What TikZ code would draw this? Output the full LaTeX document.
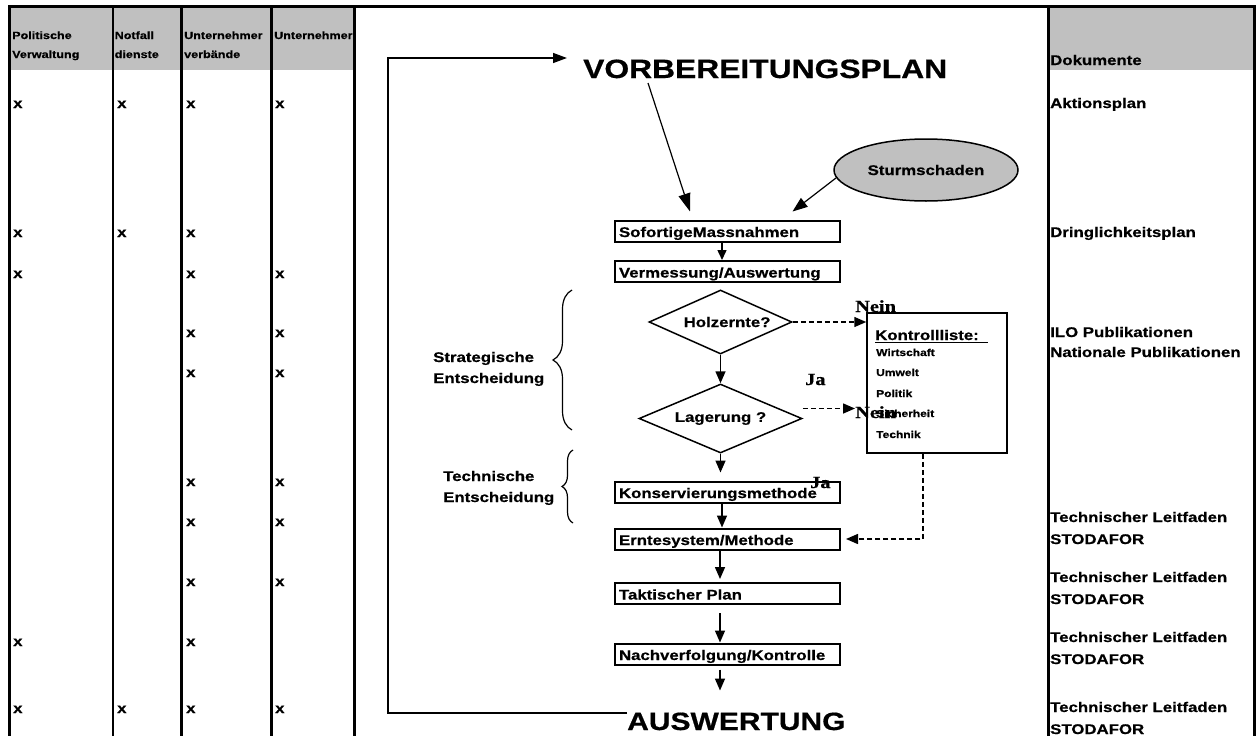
\documentclass[tikz,border=0pt]{standalone}
\usepackage{fontspec}
\setmainfont{Liberation Sans}[FakeStretch=1.2, BoldFeatures={FakeBold=0.6}]
\newfontfamily\serifb{Liberation Serif}[FakeStretch=1.2, BoldFeatures={FakeBold=0.6}]
\usetikzlibrary{arrows.meta,shapes.geometric,decorations.pathreplacing}
\newcommand\myfs[1]{\fontsize{#1}{#1}\selectfont}
\definecolor{hdrgray}{HTML}{C0C0C0}
\begin{document}
\begin{tikzpicture}[x=1pt,y=-1pt,
  tline/.style={line width=2.5pt},
  txt/.style={inner sep=0pt, anchor=base west, font=\bfseries\myfs{14}},
  hdr/.style={inner sep=0pt, anchor=base west, font=\bfseries\myfs{10.5}},
  flowbox/.style={draw, line width=2pt, minimum width=225pt, minimum height=21pt,
    text width=217pt, align=left, inner xsep=4pt, inner ysep=2pt,
    text height=14.5pt, text depth=2.5pt, font=\bfseries\myfs{14}},
  dia/.style={diamond, draw, line width=1.5pt, inner sep=0pt, font=\bfseries\myfs{14}},
  arr/.style={line width=1.5pt, -{Triangle[length=12pt,width=10pt]}},
  darr/.style={arr, dash pattern=on 5pt off 3pt},
  lbl/.style={inner sep=0pt, anchor=base west, font=\serifb\bfseries\myfs{17}},
  big/.style={inner sep=0pt, anchor=base west, font=\bfseries\myfs{26.5}},
  brc/.style={line width=1.2pt, decorate},
]
\useasboundingbox (0,0) rectangle (1256,736);
% table backgrounds
\fill[hdrgray] (10,6.5) rectangle (354,70);
\fill[hdrgray] (1048,6.5) rectangle (1256,70);
\draw[line width=3pt] (8.5,6.5) -- (1256,6.5);
\draw[line width=3pt] (9.7,5) -- (9.7,736);
\draw[line width=2pt] (112.5,6.5) -- (112.5,736);
\foreach \cx in {181.7,271.7,354.3,1048.3,1254.7}
  \draw[tline] (\cx,6.5) -- (\cx,736);
% header texts
\node[hdr] (h1a) at (12,39) {Politische};
\node[hdr] (h1b) at (12,58) {Verwaltung};
\node[hdr] (h2a) at (114.5,39) {Notfall};
\node[hdr] (h2b) at (114.5,58) {dienste};
\node[hdr] (h3a) at (184,39) {Unternehmer};
\node[hdr] (h3b) at (184,58) {verbände};
\node[hdr] (h4a) at (274,39) {Unternehmer};
\node[txt] (doc) at (1050,65) {Dokumente};
% x marks
\foreach \px/\py [count=\i] in {13/108,117/108,186/108,275/108,
   13/237,117/237,186/237,
   13/278,186/278,275/278,
   186/337,275/337, 186/377,275/377, 186/486,275/486,
   186/526,275/526, 186/586,275/586,
   13/646,186/646,
   13/713,117/713,186/713,275/713}
  \node[txt] (xm\i) at (\px,\py) {x};
% document column
\node[txt] (d1) at (1050,108) {Aktionsplan};
\node[txt] (d2) at (1050,237) {Dringlichkeitsplan};
\node[txt] (d3a) at (1050,337) {ILO Publikationen};
\node[txt] (d3b) at (1050,357) {Nationale Publikationen};
\foreach \py [count=\i] in {522,582,642,712} {
  \node[txt] (tl\i) at (1050,\py) {Technischer Leitfaden};
  \node[txt] (st\i) at (1050,\py+22) {STODAFOR};
}
% flow chart
\node[big] (vorb) at (583,78) {VORBEREITUNGSPLAN};
\node[inner sep=0pt, anchor=base west, font=\bfseries\myfs{25}] (ausw) at (627,730) {AUSWERTUNG};
\node[ellipse, draw, line width=1.5pt, fill=hdrgray, minimum width=184pt, minimum height=62pt,
  inner sep=0pt, font=\bfseries\myfs{14}] (sturm) at (926,170) {Sturmschaden};
\node[flowbox] (sof) at (727.5,231) {SofortigeMassnahmen};
\node[flowbox] (ver) at (727.5,271.5) {Vermessung/Auswertung};
\node[dia, aspect=2.23, minimum width=143pt, minimum height=64pt, text width=100pt, align=right] (holz) at (720.5,322) {Holzernte?};
\node[dia, aspect=2.36, minimum width=163pt, minimum height=69pt] (lag) at (720.5,418.5) {Lagerung ?};
\node[flowbox] (kons) at (727.5,492) {Konservierungsmethode};
\node[flowbox] (ernte) at (727.5,539) {Erntesystem/Methode};
\node[flowbox] (takt) at (727.5,593.5) {Taktischer Plan};
\node[flowbox] (nach) at (727.5,654) {Nachverfolgung/Kontrolle};
% checklist
\node[draw, line width=1.5pt, minimum width=140pt, minimum height=140pt, inner sep=0pt] (kl) at (937,383) {};
\node[txt] (kt) at (875,340) {Kontrollliste:};
\draw[line width=1.8pt] ([yshift=-2.5pt]kt.base west) -- ([yshift=-2.5pt,xshift=113pt]kt.base west);
\foreach \t/\py [count=\i] in {Wirtschaft/356,Umwelt/376,Politik/397,Sicherheit/417,Technik/438}
  \node[inner sep=0pt, anchor=base west, font=\bfseries\myfs{10}] (k\i) at (876,\py) {\t};
% labels
\node[lbl] (nein1) at (855,312) {Nein};
\node[lbl] (ja1) at (805,385) {Ja};
\node[lbl] (nein2) at (855,418) {Nein};
\node[lbl] (ja2) at (810,488) {Ja};
\node[txt] (s1) at (433,362) {Strategische};
\node[txt] (s2) at (433,383) {Entscheidung};
\node[txt] (t1) at (443,481) {Technische};
\node[txt] (t2) at (443,502) {Entscheidung};
\coordinate (sb1) at (572,430);
\coordinate (sb2) at (572,290);
\coordinate (tb1) at (573,523);
\coordinate (tb2) at (573,450);
\draw[brc, decoration={brace, amplitude=19pt}] (sb1) -- (sb2);
\draw[brc, decoration={brace, amplitude=11pt}] (tb1) -- (tb2);
% connectors
\draw[line width=1.5pt, -{Triangle[length=14pt,width=10pt]}]
  ([yshift=17pt]ausw.base west) -- ++(-239,0) |- ([xshift=-16pt,yshift=20pt]vorb.base west);
\draw[line width=1.2pt, -{Triangle[length=18pt,width=12pt]}]
  ([xshift=65pt,yshift=-5pt]vorb.base west) -- ([xshift=-37.5pt,yshift=8pt]sof.north);
\draw[line width=1.2pt, -{Triangle[length=15pt,width=11pt]}]
  (sturm.185) -- ([xshift=65pt,yshift=8pt]sof.north);
\draw[arr, -{Triangle[length=10pt,width=9pt]}] ([xshift=-5.5pt]sof.south) -- ([xshift=-5.5pt]ver.north);
\draw[arr] (holz.south) -- (lag.north);
\draw[arr, shorten >=8pt] (lag.south) -- ([xshift=-7pt]kons.north);
\draw[arr] ([xshift=-5.5pt]kons.south) -- ([xshift=-5.5pt]ernte.north);
\draw[arr, shorten >=3pt] ([xshift=-7.5pt]ernte.south) -- ([xshift=-7.5pt]takt.north);
\draw[arr, shorten <=8pt] ([xshift=-7.5pt]takt.south) -- ([xshift=-7.5pt]nach.north);
\draw[arr] ([xshift=-7.5pt,yshift=-4pt]nach.south) -- ++(0,21);
\draw[darr] (holz.east) -- (kl.west |- holz.east);
\draw[darr] ([yshift=10pt]lag.east) -- ([yshift=10pt]lag.east -| nein2.west);
\draw[darr] ([xshift=-14pt]kl.south) |- ([xshift=5pt]ernte.east);
\end{tikzpicture}
\end{document}
